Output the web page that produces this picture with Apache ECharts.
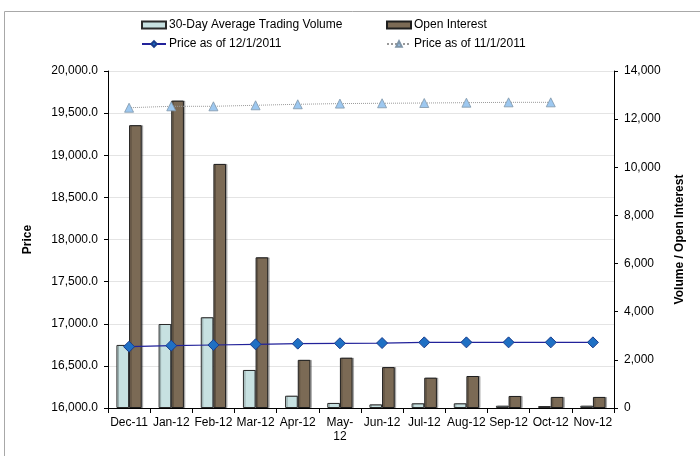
<!DOCTYPE html>
<html lang="en">
<head>
    <meta charset="UTF-8">
    <title>Price / Volume / Open Interest</title>
    <script src="https://cdn.jsdelivr.net/npm/echarts@6/dist/echarts.min.js"></script>
</head>
<style>
    body { margin:0; padding:0; background:#fff; }
    #main { width:700px; height:456px; }
</style>
<body>
<div id="main"></div>
<script>
    // chart data
    var months = ['Dec-11','Jan-12','Feb-12','Mar-12','Apr-12','May-\n12','Jun-12','Jul-12','Aug-12','Sep-12','Oct-12','Nov-12'];
    var avgVolume = [2620, 3490, 3770, 1580, 510, 210, 150, 195, 195, 95, 80, 95];
    var openInterest = [11750, 12770, 10140, 6260, 2000, 2090, 1700, 1260, 1330, 500, 460, 460];
    var priceDec = [16728, 16740, 16748, 16756, 16764, 16768, 16771, 16779, 16779, 16779, 16779, 16779];
    var priceNov = [19564, 19581, 19581, 19593, 19605, 19613, 19617, 19620, 19624, 19628, 19628, null];

    var font = 'Liberation Sans, Arial, sans-serif';
    var myChart = echarts.init(document.getElementById('main'));

    var option = {
        animation: false,
        textStyle: { fontFamily: font, color: '#000' },
        graphic: [{
            type: 'rect',
            shape: { x: 4.5, y: 11.5, width: 800, height: 800 },
            style: { fill: 'none', stroke: '#a8a8a8', lineWidth: 1 },
            silent: true
        }],
        legend: [
            { data: [{ name: '30-Day Average Trading Volume', icon: 'rect' }], left: 141, top: 19, padding: 0 },
            { data: [{ name: 'Open Interest', icon: 'rect' }], left: 386, top: 19, padding: 0 },
            { data: ['Price as of 12/1/2011'], left: 141, top: 38, padding: 0 },
            { data: ['Price as of 11/1/2011'], left: 386, top: 38, padding: 0 }
        ].map(function (l) {
            l.itemWidth = 24;
            l.itemHeight = 7;
            l.itemGap = 4;
            l.textStyle = { fontFamily: font, fontSize: 12, color: '#000', padding: [0, 0, 0, -2] };
            return l;
        }),
        grid: { left: 108, right: 86, top: 71, bottom: 48 },
        xAxis: {
            type: 'category',
            data: months,
            axisLine: { lineStyle: { color: '#000' } },
            axisTick: { show: true, length: 5, lineStyle: { color: '#000' } },
            axisLabel: { interval: 0, fontSize: 12, color: '#000', margin: 8, lineHeight: 14 }
        },
        yAxis: [{
            type: 'value',
            min: 16000, max: 20000, interval: 500,
            name: 'Price',
            nameLocation: 'middle',
            nameGap: 74,
            nameTextStyle: { fontWeight: 'bold', fontSize: 12, color: '#000' },
            axisLine: { show: true, lineStyle: { color: '#000' } },
            axisTick: { show: true, length: 4, lineStyle: { color: '#000' } },
            axisLabel: {
                fontSize: 12, color: '#000', margin: 10,
                formatter: function (v) { return v.toLocaleString('en-US', { minimumFractionDigits: 1 }); }
            },
            splitLine: { lineStyle: { color: '#e4e4e4' } }
        }, {
            type: 'value',
            min: 0, max: 14000, interval: 2000,
            name: 'Volume / Open Interest',
            nameLocation: 'middle',
            nameGap: 60,
            nameTextStyle: { fontWeight: 'bold', fontSize: 12, color: '#000' },
            axisLine: { show: true, lineStyle: { color: '#000' } },
            axisTick: { show: true, length: 4, lineStyle: { color: '#000' } },
            axisLabel: {
                fontSize: 12, color: '#000', margin: 10,
                formatter: function (v) { return v.toLocaleString('en-US'); }
            },
            splitLine: { show: false }
        }],
        series: [{
            name: '30-Day Average Trading Volume',
            type: 'bar',
            yAxisIndex: 1,
            data: avgVolume,
            barWidth: '30%',
            barGap: '0%',
            itemStyle: { color: '#c7e1e1', borderColor: '#2a2a2a', borderWidth: 1,
                shadowColor: 'rgba(0,0,0,0.25)', shadowOffsetX: 1.5, shadowOffsetY: 0 }
        }, {
            name: 'Open Interest',
            type: 'bar',
            yAxisIndex: 1,
            data: openInterest,
            barWidth: '30%',
            barGap: '0%',
            itemStyle: { color: '#7b6a55', borderColor: '#1e1e1e', borderWidth: 1,
                shadowColor: 'rgba(0,0,0,0.25)', shadowOffsetX: 1.5, shadowOffsetY: 0 }
        }, {
            name: 'Price as of 12/1/2011',
            type: 'line',
            yAxisIndex: 0,
            data: priceDec,
            symbol: 'diamond',
            symbolSize: 11,
            lineStyle: { color: '#22229a', width: 1.2 },
            itemStyle: { color: '#1f70c4', borderColor: '#1a3c8c', borderWidth: 1 }
        }, {
            name: 'Price as of 11/1/2011',
            type: 'line',
            yAxisIndex: 0,
            data: priceNov,
            symbol: 'triangle',
            symbolSize: 9,
            lineStyle: { color: '#9a9a9a', width: 1, type: 'dotted' },
            itemStyle: { color: '#9dc8f0', borderColor: '#7f95a8', borderWidth: 0.8 }
        }]
    };
    myChart.setOption(option);
</script>
</body>
</html>
